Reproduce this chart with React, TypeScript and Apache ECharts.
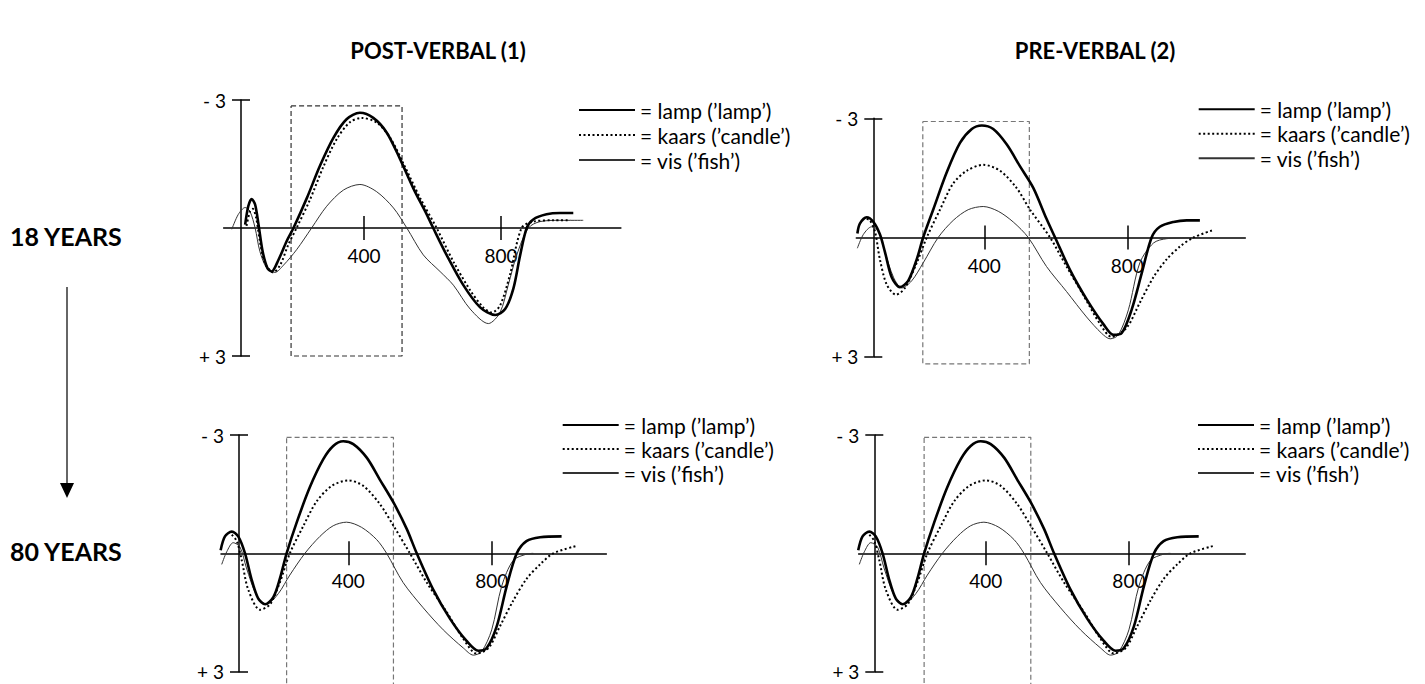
import React, { useEffect, useRef } from "react";
import * as echarts from "echarts";

type Pt = [number, number];

// ---- labels ----
const COL_TITLES = ["POST-VERBAL (1)", "PRE-VERBAL (2)"];
const ROW_TITLES = ["18 YEARS", "80 YEARS"];
const LAMP = "lamp (’lamp’)";
const KAARS = "kaars (’candle’)";
const VIS = "vis (’fish’)";
const X_TICKS = [400, 800];
const Y_TICKS = [-3, 3];

// ---- data: [time (ms), amplitude (µV, negative up)] ----
// 18 years, post-verbal
const TL_LAMP: Pt[] = [[53,-0.08],[62,-0.51],[72,-0.68],[82,-0.55],[92,-0.08],[104,0.55],[118,0.94],[130,1.02],[150,0.75],[174,0.31],[194,0],[233,-0.7],[272,-1.47],[311,-2.12],[349,-2.55],[388,-2.7],[427,-2.58],[466,-2.24],[505,-1.62],[544,-0.93],[583,-0.32],[602,0],[641,0.63],[690,1.34],[739,1.86],[783,2.04],[812,1.9],[836,1.42],[856,0.63],[875,0],[894,-0.2],[933,-0.32],[972,-0.35],[1011,-0.35]];
const TL_KAARS: Pt[] = [[57,-0.05],[67,-0.39],[75,-0.45],[85,-0.24],[96,0.31],[111,0.83],[135,1.04],[155,0.87],[179,0.39],[203,0],[242,-0.66],[281,-1.43],[320,-2.08],[359,-2.48],[393,-2.58],[437,-2.47],[476,-2.12],[515,-1.51],[564,-0.7],[612,0],[661,0.79],[710,1.46],[748,1.86],[773,1.98],[797,1.82],[826,1.1],[860,0],[894,-0.15],[953,-0.18],[1002,-0.18]];
const TL_VIS: Pt[] = [[14,0.03],[33,-0.32],[53,-0.48],[67,-0.39],[82,0],[96,0.55],[116,0.94],[140,1.04],[165,0.87],[203,0.51],[247,0],[291,-0.51],[340,-0.89],[388,-1.02],[437,-0.85],[486,-0.47],[525,0],[573,0.63],[622,1.02],[661,1.34],[710,1.9],[763,2.24],[797,1.98],[821,1.34],[846,0.63],[880,0],[914,-0.15],[972,-0.18],[1040,-0.18]];
// 18 years, pre-verbal
const TR_LAMP: Pt[] = [[45,-0.1],[52,-0.35],[71,-0.51],[90,-0.39],[108,-0.08],[122,0.36],[141,1.0],[164,1.25],[187,1.09],[211,0.55],[229,0],[257,-0.7],[295,-1.64],[332,-2.38],[365,-2.73],[393,-2.82],[425,-2.73],[463,-2.34],[500,-1.79],[537,-1.25],[574,-0.47],[598,0],[640,0.82],[686,1.55],[733,2.18],[761,2.45],[784,2.41],[812,1.82],[840,0.91],[868,0],[891,-0.27],[929,-0.39],[966,-0.43],[1003,-0.43]];
const TR_KAARS: Pt[] = [[71,-0.47],[80,-0.43],[94,-0.16],[108,0.55],[127,1.18],[153,1.44],[178,1.27],[211,0.64],[239,0],[276,-0.7],[313,-1.36],[351,-1.68],[397,-1.83],[444,-1.68],[490,-1.25],[528,-0.7],[584,0],[630,0.73],[677,1.45],[724,2.18],[756,2.5],[798,2.27],[835,1.64],[873,1.0],[910,0.55],[947,0.23],[985,0],[1041,-0.19]];
const TR_VIS: Pt[] = [[45,0.27],[62,-0.08],[85,-0.27],[104,-0.16],[122,0.36],[146,1.0],[169,1.27],[197,1.09],[229,0.64],[271,0],[313,-0.43],[355,-0.7],[397,-0.78],[439,-0.66],[481,-0.39],[523,0],[574,0.73],[630,1.36],[686,2.0],[728,2.41],[752,2.55],[775,2.45],[803,1.82],[835,0.64],[873,0.14],[910,0.03],[1003,0]];
// 80 years (both conditions)
const BOT_LAMP: Pt[] = [[44,-0.08],[56,-0.43],[75,-0.55],[93,-0.43],[112,0],[130,0.65],[149,1.15],[168,1.29],[191,1.11],[209,0.65],[228,0],[256,-0.78],[293,-1.68],[330,-2.38],[358,-2.72],[386,-2.84],[414,-2.77],[452,-2.42],[488,-1.87],[526,-1.29],[563,-0.62],[591,0],[637,0.92],[684,1.66],[730,2.22],[763,2.47],[786,2.4],[814,1.85],[842,0.83],[870,0],[897,-0.31],[935,-0.41],[995,-0.43]];
const BOT_KAARS: Pt[] = [[75,-0.47],[89,-0.31],[103,0.18],[121,0.92],[154,1.43],[182,1.29],[209,0.74],[237,0],[275,-0.7],[312,-1.32],[354,-1.71],[400,-1.85],[442,-1.71],[488,-1.25],[526,-0.7],[572,0],[619,0.74],[674,1.48],[721,2.17],[758,2.54],[791,2.4],[823,1.85],[860,1.2],[897,0.65],[935,0.28],[972,0],[1037,-0.19]];
const BOT_VIS: Pt[] = [[47,0.28],[61,-0.04],[79,-0.27],[98,-0.16],[116,0.37],[144,1.06],[172,1.29],[205,1.02],[237,0.55],[279,0],[321,-0.43],[358,-0.7],[395,-0.79],[437,-0.66],[479,-0.35],[507,0],[553,0.74],[609,1.38],[665,1.94],[721,2.4],[749,2.58],[772,2.49],[800,1.94],[828,0.83],[860,0.18],[897,0.02],[916,0]];

// analysis windows: [t0, t1] and [v0, v1]
const TL_WIN_T = [187, 511];
const TL_WIN_V = [-2.86, 3.0];
const TR_WIN_T = [228, 526];
const TR_WIN_V = [-2.92, 3.18];
const BOT_WIN_T = [228, 526];
const BOT_WIN_V = [-2.94, 3.35];

const FONT = "Lato, 'Noto Sans', sans-serif";

const PANELS = [
  { lamp: TL_LAMP, kaars: TL_KAARS, vis: TL_VIS, winT: TL_WIN_T, winV: TL_WIN_V, xMin: -10, xMax: 1150,
    left: 223.6, width: 397.3, top: 100, height: 256, axisPx: 241, boxColor: "#333",
    legLeft: 578, legTop: 97.5, legPitch: 25 },
  { lamp: TR_LAMP, kaars: TR_KAARS, vis: TR_VIS, winT: TR_WIN_T, winV: TR_WIN_V, xMin: 42, xMax: 1130,
    left: 856.3, width: 389, top: 118.3, height: 238.4, axisPx: 873.3, boxColor: "#777",
    legLeft: 1197.7, legTop: 97, legPitch: 24.5 },
  { lamp: BOT_LAMP, kaars: BOT_KAARS, vis: BOT_VIS, winT: BOT_WIN_T, winV: BOT_WIN_V, xMin: 45, xMax: 1120,
    left: 221, width: 385.4, top: 435, height: 236.7, axisPx: 239, boxColor: "#777",
    legLeft: 561.7, legTop: 413, legPitch: 24 },
  { lamp: BOT_LAMP, kaars: BOT_KAARS, vis: BOT_VIS, winT: BOT_WIN_T, winV: BOT_WIN_V, xMin: 45, xMax: 1125,
    left: 858.6, width: 386.65, top: 435, height: 236.7, axisPx: 874.3, boxColor: "#777",
    legLeft: 1197, legTop: 413, legPitch: 24 },
];

function buildOption() {
  const axisLineStyle = { color: "#000", width: 1.5 };
  const grid: any[] = [];
  const xAxis: any[] = [];
  const yAxis: any[] = [];
  const series: any[] = [];
  const legend: any[] = [];

  PANELS.forEach((p, i) => {
    grid.push({ left: p.left, top: p.top, width: p.width, height: p.height });
    // labels of an onZero axis are laid out from the grid edge; pull them back to the zero line
    const labelMargin = 18 - p.height / 2;
    xAxis.push({
      gridIndex: i, type: "value", position: "bottom", min: p.xMin, max: p.xMax,
      axisLine: { show: true, onZero: true, lineStyle: axisLineStyle },
      axisTick: { show: true, customValues: X_TICKS, length: 12, lineStyle: axisLineStyle },
      axisLabel: { show: true, customValues: X_TICKS, margin: labelMargin, color: "#000", fontSize: 19, fontFamily: FONT },
      splitLine: { show: false },
    });
    xAxis.push({
      gridIndex: i, type: "value", position: "top", min: p.xMin, max: p.xMax,
      axisLine: { show: false, onZero: true },
      axisTick: { show: true, customValues: X_TICKS, length: 12, lineStyle: axisLineStyle },
      axisLabel: { show: false },
      splitLine: { show: false },
    });
    yAxis.push({
      gridIndex: i, type: "value", position: "left", inverse: true, min: -3, max: 3,
      offset: -(p.axisPx - p.left),
      axisLine: { show: true, onZero: false, lineStyle: axisLineStyle },
      axisTick: { show: true, customValues: Y_TICKS, length: 9, lineStyle: axisLineStyle },
      axisLabel: {
        show: true, customValues: Y_TICKS, margin: 15, color: "#000", fontSize: 19, fontFamily: FONT,
        formatter: (v: number) => (v < 0 ? "- " : "+ ") + Math.abs(v),
      },
      splitLine: { show: false },
    });
    yAxis.push({
      gridIndex: i, type: "value", position: "right", inverse: true, min: -3, max: 3,
      offset: p.axisPx - (p.left + p.width),
      axisLine: { show: false, onZero: false },
      axisTick: { show: true, customValues: Y_TICKS, length: 9, lineStyle: axisLineStyle },
      axisLabel: { show: false },
      splitLine: { show: false },
    });

    const common = { type: "line", xAxisIndex: 2 * i, yAxisIndex: 2 * i, smooth: 0.3, symbol: "none", silent: true };
    series.push({
      ...common, name: LAMP, data: p.lamp, z: 4,
      itemStyle: { color: "#000" }, lineStyle: { color: "#000", width: 2.6 },
    });
    series.push({
      ...common, name: KAARS, data: p.kaars, z: 3,
      itemStyle: { color: "#000" }, lineStyle: { color: "#000", width: 2, type: [2, 2.5] },
    });
    series.push({
      ...common, name: VIS, data: p.vis, z: 2,
      itemStyle: { color: "#333" }, lineStyle: { color: "#333", width: 1 },
    });
    // dashed analysis window (closed outline through the axes' scales)
    const [t0, t1] = p.winT;
    const [v0, v1] = p.winV;
    series.push({
      type: "line", name: "window", xAxisIndex: 2 * i, yAxisIndex: 2 * i, silent: true,
      symbol: "none", smooth: false, clip: false, z: 1,
      data: [[t0, v0], [t1, v0], [t1, v1], [t0, v1], [t0, v0]],
      lineStyle: { color: p.boxColor, width: 1.2, type: [5, 3] },
      itemStyle: { color: p.boxColor },
    });

    legend.push({
      orient: "vertical", left: p.legLeft, top: p.legTop, padding: 0, itemGap: 0,
      itemWidth: 56, itemHeight: 14, selectedMode: false,
      data: [LAMP, KAARS, VIS],
      formatter: "= {name}",
      itemStyle: { opacity: 0 },
      textStyle: { fontFamily: FONT, fontSize: 21, color: "#000", lineHeight: p.legPitch },
    });
  });

  return {
    animation: false,
    backgroundColor: "#fff",
    title: [
      { text: COL_TITLES[0], left: 438, top: 39, textAlign: "center", padding: 0,
        textStyle: { fontFamily: FONT, fontWeight: "bold", fontSize: 22, color: "#000" } },
      { text: COL_TITLES[1], left: 1095, top: 39, textAlign: "center", padding: 0,
        textStyle: { fontFamily: FONT, fontWeight: "bold", fontSize: 22, color: "#000" } },
    ],
    grid, xAxis, yAxis, series, legend,
    graphic: [
      { type: "text", x: 10, y: 236, style: { text: ROW_TITLES[0], font: `bold 25px ${FONT}`, fill: "#000", verticalAlign: "middle" } },
      { type: "text", x: 10, y: 551, style: { text: ROW_TITLES[1], font: `bold 25px ${FONT}`, fill: "#000", verticalAlign: "middle" } },
      { type: "line", shape: { x1: 67, y1: 287, x2: 67, y2: 485 }, style: { stroke: "#333", lineWidth: 1.5 } },
      { type: "polygon", shape: { points: [[60, 483], [74, 483], [67, 498]] }, style: { fill: "#000" } },
    ],
  };
}

export default function App() {
  const ref = useRef<HTMLDivElement>(null);
  useEffect(() => {
    const chart = echarts.init(ref.current!, null, { renderer: "svg" });
    chart.setOption(buildOption() as any);
    return () => chart.dispose();
  }, []);
  return (
    <div
      ref={ref}
      style={{ position: "fixed", left: 0, top: 0, width: 1425, height: 684, background: "#fff" }}
    />
  );
}
